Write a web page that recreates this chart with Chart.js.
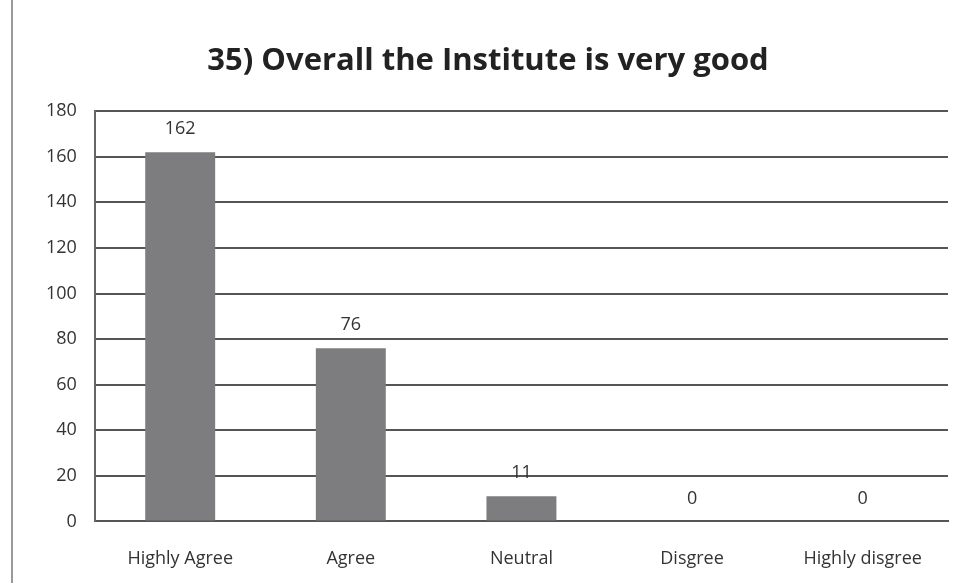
<!DOCTYPE html>
<html>
<head>
<meta charset="utf-8">
<script src="https://cdn.jsdelivr.net/npm/chart.js@4"></script>
<style>
  html, body { margin: 0; padding: 0; background: #fff; }
  #wrap { position: relative; width: 965px; height: 583px; }
  #edge { position: absolute; left: 11px; top: 0; width: 2px; height: 583px; background: #9a9a9a; }
</style>
</head>
<body>
<div id="wrap">
  <canvas id="chart" width="965" height="583"></canvas>
  <div id="edge"></div>
</div>
<script>
// data
const categories = ['Highly Agree', 'Agree', 'Neutral', 'Disgree', 'Highly disgree'];
const counts     = [162, 76, 11, 0, 0];
const titleText  = '35) Overall the Institute is very good';

const FONT = "'Open Sans', 'Noto Sans', sans-serif";

// value labels above each bar
const valueLabels = {
  id: 'valueLabels',
  afterDatasetsDraw(chart) {
    const ctx = chart.ctx;
    const meta = chart.getDatasetMeta(0);
    ctx.save();
    ctx.font = `18px ${FONT}`;
    ctx.fillStyle = '#333';
    ctx.textAlign = 'center';
    ctx.textBaseline = 'bottom';
    meta.data.forEach((bar, i) => {
      ctx.fillText(String(counts[i]), bar.x, bar.y - 14);
    });
    ctx.restore();
  }
};

new Chart(document.getElementById('chart').getContext('2d'), {
  type: 'bar',
  data: {
    labels: categories,
    datasets: [{
      data: counts,
      backgroundColor: '#7d7d7f',
      borderWidth: 0,
      barPercentage: 0.82,
      categoryPercentage: 0.5
    }]
  },
  options: {
    responsive: false,
    animation: false,
    layout: { padding: { left: 28, right: 17, top: 0, bottom: -6 } },
    plugins: {
      legend: { display: false },
      tooltip: { enabled: false },
      title: {
        display: true,
        text: titleText,
        color: '#222',
        font: { family: FONT, size: 31, weight: 'bold' },
        padding: { top: 43, bottom: 31 }
      }
    },
    scales: {
      x: {
        grid: { display: false },
        border: { display: true, color: '#555', width: 2 },
        ticks: {
          autoSkip: false,
          maxRotation: 0,
          color: '#333',
          padding: 19,
          font: { family: FONT, size: 18 }
        }
      },
      y: {
        min: 0,
        max: 180,
        ticks: {
          stepSize: 20,
          color: '#333',
          padding: 18,
          font: { family: FONT, size: 18 }
        },
        grid: { color: '#555', lineWidth: 2, drawTicks: false },
        border: { display: true, color: '#666', width: 2 }
      }
    }
  },
  plugins: [valueLabels]
});
</script>
</body>
</html>
